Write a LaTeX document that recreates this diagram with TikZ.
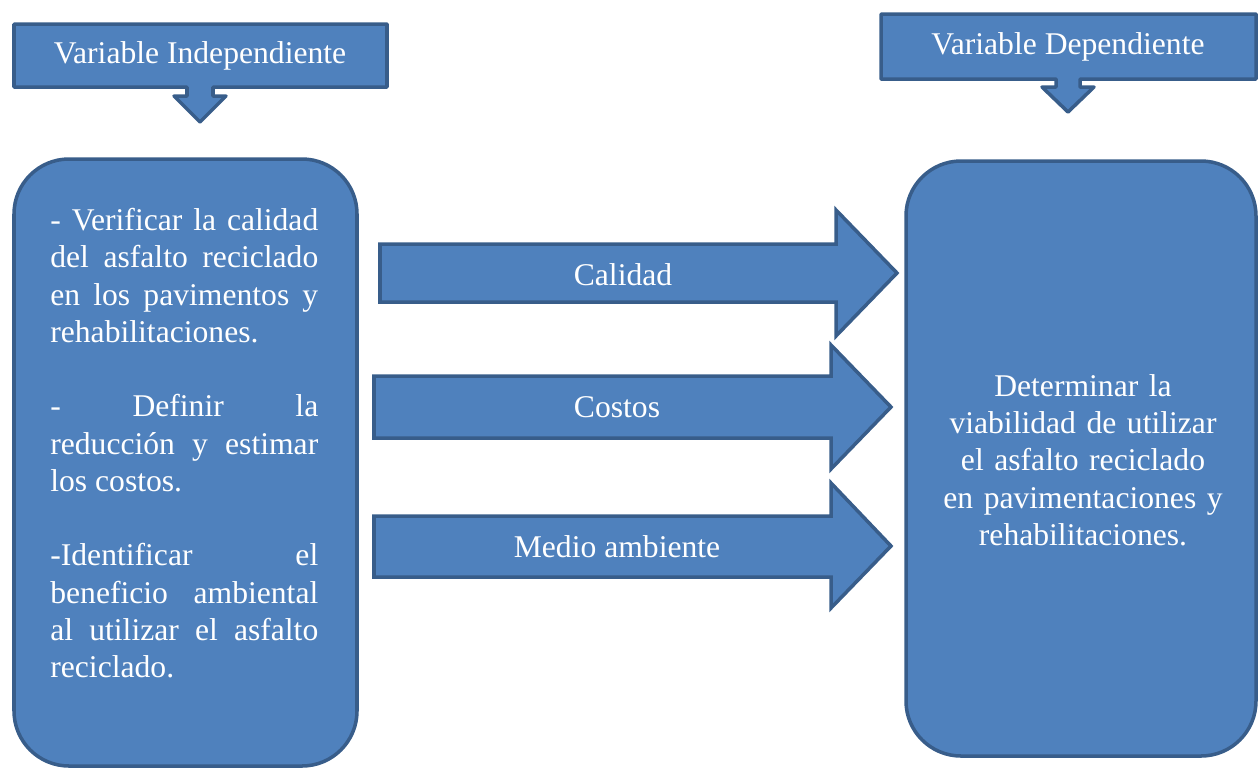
\documentclass[tikz,border=0pt]{standalone}
\usepackage{fontspec}
\setmainfont{Liberation Serif}
\setlength{\parindent}{0pt}
\definecolor{boxfill}{RGB}{79,129,189}
\definecolor{boxline}{RGB}{56,93,138}
\begin{document}
\begin{tikzpicture}[
    x=0.02cm, y=-0.02cm,
    blockfill/.style={draw=boxline, fill=boxfill, line width=2pt},
    bigbox/.style={blockfill, rounded corners=1.1cm},
    every node/.style={text=white, inner sep=0pt, font=\fontsize{18}{21.2}\selectfont}
]
\useasboundingbox (0,0) rectangle (1258,769);

% callouts on top
\draw[blockfill, line join=round] (14,24) -- (387,24) -- (387,87) -- (213,87) -- (213,96) -- (226,96)
    -- (200,122) -- (174,96) -- (187,96) -- (187,87) -- (14,87) -- cycle;
\node (indep) at (200,56) {Variable Independiente};
\draw[blockfill, line join=round] (881,14) -- (1256,14) -- (1256,79) -- (1080,79) -- (1080,87) -- (1094,87)
    -- (1068,112) -- (1042,87) -- (1056,87) -- (1056,79) -- (881,79) -- cycle;
\node (dep) at (1068,47) {Variable Dependiente};

% left box
\draw[bigbox] (14,159) rectangle (357,766);
\node[text width=5.36cm, align=justify, anchor=north west] (goals) at (50,208) {%
- Verificar la calidad\linebreak del asfalto reciclado\linebreak en los pavimentos y\linebreak rehabilitaciones.\par
\vspace{21.2pt}
- Definir la\linebreak reducción y estimar\linebreak los costos.\par
\vspace{21.2pt}
-Identificar el\linebreak beneficio ambiental\linebreak al utilizar el asfalto\linebreak reciclado.};

% right box
\draw[bigbox] (906,161) rectangle (1256,756);
\node[text width=6cm, align=center] (aim) at (1083,460) {Determinar la\\ viabilidad de utilizar\\
    el asfalto reciclado\\ en pavimentaciones y\\ rehabilitaciones.};

% block arrows
\draw[blockfill] (380,244) -- (836,244) -- (836,210) -- (897,273) -- (836,336) -- (836,302)
    -- (380,302) -- cycle;
\node (calidad) at (623,275) {Calidad};
\draw[blockfill] (374,376) -- (831,376) -- (831,345) -- (891,407) -- (831,469) -- (831,438)
    -- (374,438) -- cycle;
\node (costos) at (617,407) {Costos};
\draw[blockfill] (374,516) -- (831,516) -- (831,483) -- (891,546) -- (831,608) -- (831,577)
    -- (374,577) -- cycle;
\node (ambiente) at (617,547) {Medio ambiente};
\end{tikzpicture}
\end{document}
